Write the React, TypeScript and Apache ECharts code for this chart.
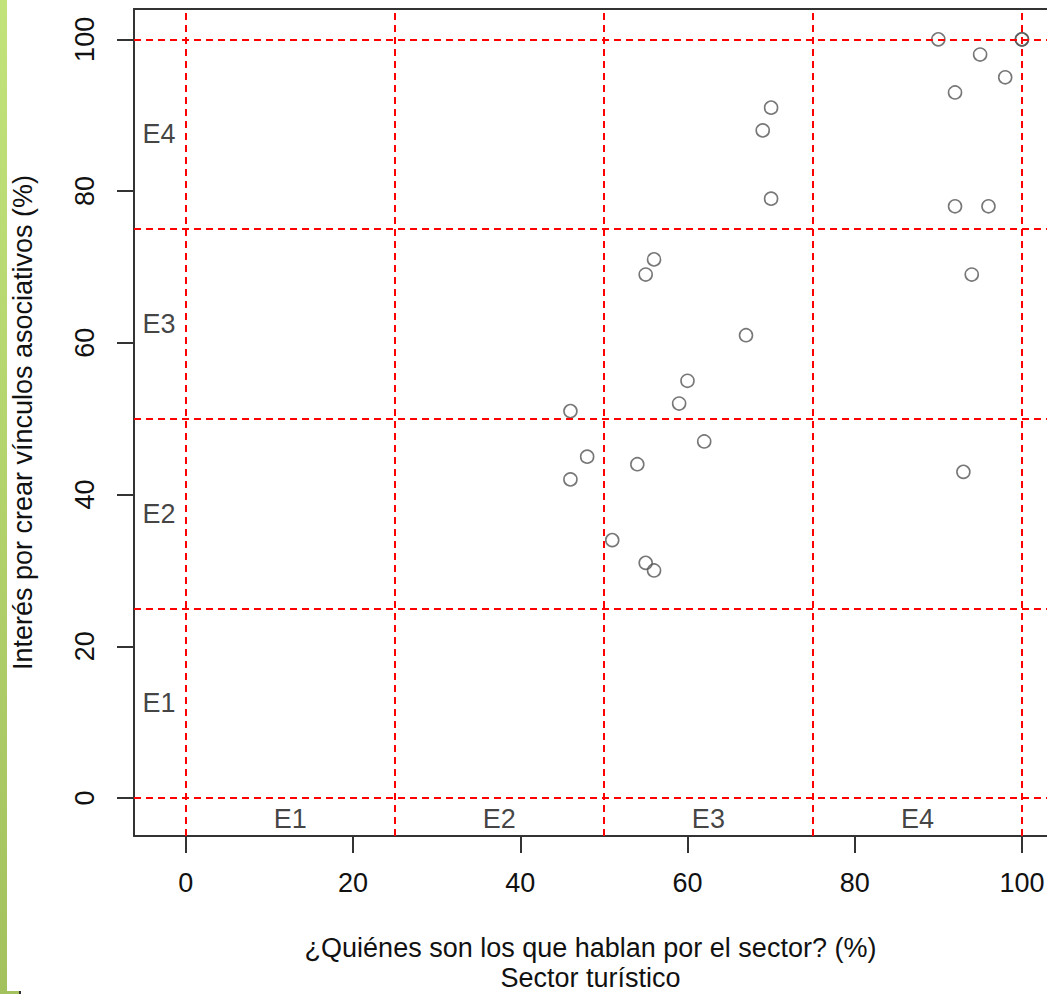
import React, { useEffect, useRef } from "react";
import * as echarts from "echarts";

// Data points: [sector % , interés %]
const sectorX = [90, 100, 100, 95, 98, 92, 92, 96, 94, 93, 70, 69, 70, 56, 55, 67, 60, 59, 46, 62, 48, 54, 46, 51, 55, 56];
const interesY = [100, 100, 100, 98, 95, 93, 78, 78, 69, 43, 91, 88, 79, 71, 69, 61, 55, 52, 51, 47, 45, 44, 42, 34, 31, 30];

const tickValues = [0, 20, 40, 60, 80, 100];
const cutValues = [0, 25, 50, 75, 100];

const stageNames = ["E1", "E2", "E3", "E4"];
const stageCenters = [12.5, 37.5, 62.5, 87.5];
const leftLabelX = -3.2;
const bottomLabelY = -2.8;

const xTitle = "¿Quiénes son los que hablan por el sector? (%)\nSector turístico";
const yTitle = "Interés por crear vínculos asociativos (%)";

const FONT = "'Liberation Sans', Arial, Helvetica, sans-serif";
const FS = 27;

export default function App() {
  const ref = useRef<HTMLDivElement>(null);

  useEffect(() => {
    document.body.style.margin = "0";
    if (!ref.current) return;
    const chart = echarts.init(ref.current, null, { renderer: "svg" });

    const points = sectorX.map((x, i) => [x, interesY[i]]);
    const leftLabels = stageNames.map((n, i) => ({ value: [leftLabelX, stageCenters[i]], name: n }));
    const bottomLabels = stageNames.map((n, i) => ({ value: [stageCenters[i], bottomLabelY], name: n }));

    const markLines = [
      ...cutValues.map((v) => ({ xAxis: v })),
      ...cutValues.map((v) => ({ yAxis: v })),
    ];

    const labelSeries = (data: any[]) => ({
      type: "scatter",
      data,
      symbolSize: 0,
      silent: true,
      label: {
        show: true,
        position: "inside",
        formatter: (p: any) => p.name,
        color: "#111",
        fontSize: FS,
        fontFamily: FONT,
      },
      z: 5,
    });

    const axisLine = { show: true, onZero: false, lineStyle: { color: "#333", width: 2 } };

    chart.setOption({
      animation: false,
      backgroundColor: "#fff",
      textStyle: { fontFamily: FONT },
      grid: {
        left: 134,
        right: 0,
        top: 9,
        bottom: 158,
        show: false,
        containLabel: false,
        outerBoundsMode: "none",
      },
      xAxis: [
        {
          type: "value",
          position: "bottom",
          min: -6.2,
          max: 103.0,
          axisLine,
          splitLine: { show: false },
          axisTick: { show: true, length: 17, lineStyle: { color: "#333", width: 2 }, customValues: tickValues },
          axisLabel: { show: true, customValues: tickValues, margin: 33, fontSize: FS, color: "#111", fontFamily: FONT },
          name: xTitle,
          nameLocation: "middle",
          nameGap: 97,
          nameTextStyle: { fontSize: FS, lineHeight: 30, color: "#111", fontFamily: FONT },
        },
        {
          type: "value",
          position: "top",
          min: -6.2,
          max: 103.0,
          axisLine,
          splitLine: { show: false },
          axisTick: { show: false },
          axisLabel: { show: false },
        },
      ],
      yAxis: {
        type: "value",
        min: -5,
        max: 104,
        axisLine,
        splitLine: { show: false },
        axisTick: { show: true, length: 17, lineStyle: { color: "#333", width: 2 }, customValues: tickValues },
        axisLabel: { show: true, customValues: tickValues, rotate: 90, margin: 36, fontSize: FS, color: "#111", fontFamily: FONT },
        name: yTitle,
        nameLocation: "middle",
        nameGap: 96,
        nameTextStyle: { fontSize: FS, lineHeight: 30, color: "#111", fontFamily: FONT },
      },
      graphic: [
        {
          type: "rect",
          shape: { x: 0, y: 0, width: 7, height: 994 },
          style: {
            fill: new echarts.graphic.LinearGradient(0, 0, 0, 1, [
              { offset: 0, color: "#c2e27a" },
              { offset: 1, color: "#a3c25e" },
            ]),
          },
          silent: true,
        },
        {
          type: "rect",
          shape: { x: 0, y: 991, width: 20, height: 3 },
          style: { fill: "#a3c25e" },
          silent: true,
        },
        {
          type: "rect",
          shape: { x: 19, y: 991, width: 2, height: 3 },
          style: { fill: "#333" },
          silent: true,
        },
      ],
      series: [
        {
          type: "scatter",
          data: points,
          symbol: "circle",
          symbolSize: 13,
          itemStyle: { color: "rgba(0,0,0,0)", borderColor: "#555", borderWidth: 1.6 },
          silent: true,
          z: 3,
          markLine: {
            silent: true,
            symbol: "none",
            label: { show: false },
            lineStyle: { color: "#ff0000", width: 2, type: [7, 5] },
            data: markLines,
          },
        },
        labelSeries(leftLabels),
        labelSeries(bottomLabels),
      ],
    });

    return () => chart.dispose();
  }, []);

  return <div ref={ref} style={{ width: 1047, height: 994 }} />;
}
